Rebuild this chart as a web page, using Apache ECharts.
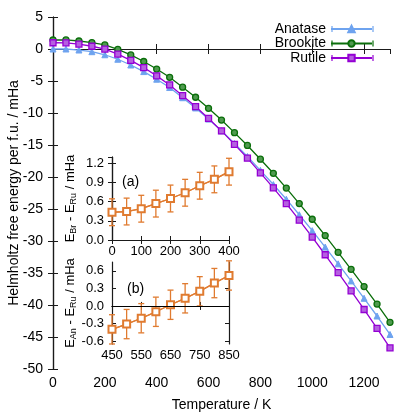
<!DOCTYPE html>
<html>
<head>
<meta charset="utf-8">
<script src="https://cdn.jsdelivr.net/npm/echarts@6/dist/echarts.min.js"></script>
<style>
  html, body { margin: 0; padding: 0; background: #fff; }
  #chart { width: 415px; height: 415px; }
</style>
</head>
<body>
<div id="chart"></div>
<script>
// main plot: free energy per formula unit (mHa) vs temperature (K)
const temps = [0, 50, 100, 150, 200, 250, 300, 350, 400, 450, 500, 550, 600, 650,
  700, 750, 800, 850, 900, 950, 1000, 1050, 1100, 1150, 1200, 1250, 1300]
const anatase = [0.00, 0.00, -0.16, -0.42, -0.90, -1.60, -2.50, -3.53, -4.72, -6.02,
  -7.61, -9.21, -10.95, -12.78, -14.77, -16.80, -18.96, -21.18, -23.47, -25.90,
  -28.38, -30.95, -33.57, -36.24, -38.95, -41.72, -44.60]
const brookite = [1.41, 1.42, 1.25, 1.00, 0.63, -0.06, -0.93, -1.95, -3.13, -4.42,
  -5.97, -7.54, -9.27, -11.10, -13.07, -15.07, -17.22, -19.42, -21.73, -24.15,
  -26.60, -29.16, -31.77, -34.42, -37.12, -39.86, -42.70]
const rutile = [0.98, 0.97, 0.76, 0.43, -0.02, -0.80, -1.78, -2.90, -4.20, -5.62,
  -7.30, -9.00, -10.85, -12.80, -14.90, -17.05, -19.35, -21.70, -24.15, -26.75,
  -29.40, -32.15, -34.95, -37.80, -40.70, -43.65, -46.70]

// inset (a): E_Br - E_Ru
const tempsA = [0, 50, 100, 150, 200, 250, 300, 350, 400]
const diffBrRu = [0.435, 0.446, 0.49, 0.57, 0.65, 0.74, 0.85, 0.95, 1.07]
const errBrRu = [0.21, 0.21, 0.21, 0.21, 0.21, 0.21, 0.21, 0.21, 0.21]

// inset (b): E_An - E_Ru
const tempsB = [450, 500, 550, 600, 650, 700, 750, 800, 850]
const diffAnRu = [-0.40, -0.31, -0.21, -0.10, 0.02, 0.13, 0.25, 0.39, 0.52]
const errAnRu = [0.25, 0.25, 0.25, 0.25, 0.25, 0.25, 0.25, 0.25, 0.25]

const tickLabelsB = [-0.6, -0.3, 0, 0.3, 0.6]

const FONT = 'Liberation Sans'
const ORANGE = '#e07b30'
const FRAME = '#1a1a1a'
const BLUE = '#6ea3ef'
const GREEN = '#0a6e0a'
const PURPLE = '#9400d3'

const pairs = (xs, ys) => xs.map((x, i) => [x, ys[i]])
// each row: x, y, err, next x, next y (for the connecting segment)
const rows = (xs, ys, es) => xs.map((x, i) => [x, ys[i], es[i],
  i + 1 < xs.length ? xs[i + 1] : x, i + 1 < xs.length ? ys[i + 1] : ys[i]])

function axisLine() {
  return { show: true, lineStyle: { color: FRAME, width: 1.2 } }
}
function axisTick(len) {
  return { show: true, inside: true, length: len, lineStyle: { color: FRAME, width: 1 } }
}

function errorBars(params, api) {
  const x = api.value(0)
  const y = api.value(1)
  const e = api.value(2)
  const p = api.coord([x, y])
  const q = api.coord([api.value(3), api.value(4)])
  const top = api.coord([x, y + e])
  const bot = api.coord([x, y - e])
  const w = 3
  const style = { stroke: ORANGE, lineWidth: 1.3 }
  return {
    type: 'group',
    children: [
      { type: 'line', shape: { x1: p[0], y1: p[1], x2: q[0], y2: q[1] }, style },
      { type: 'line', shape: { x1: top[0], y1: top[1], x2: bot[0], y2: bot[1] }, style },
      { type: 'line', shape: { x1: top[0] - w, y1: top[1], x2: top[0] + w, y2: top[1] }, style },
      { type: 'line', shape: { x1: bot[0] - w, y1: bot[1], x2: bot[0] + w, y2: bot[1] }, style }
    ]
  }
}

// end caps of the legend samples (gnuplot error-line style)
function legendCaps() {
  const caps = [[29, BLUE], [43.5, GREEN], [58, PURPLE]]
  const out = []
  caps.forEach(([y, c]) => {
    [332, 373].forEach(x => {
      out.push({ type: 'line', z: 30, shape: { x1: x, y1: y - 3, x2: x, y2: y + 3 }, style: { stroke: c, lineWidth: 1.2 } })
    })
  })
  return out
}

const chart = echarts.init(document.getElementById('chart'), null, { renderer: 'canvas' })

const insetName = {
  fontSize: 13, fontFamily: FONT,
  rich: { s: { fontSize: 9, padding: [7, 0, 0, 0] } }
}

const option = {
  animation: false,
  textStyle: { fontFamily: FONT, color: '#000' },
  legend: {
    orient: 'vertical',
    align: 'right',
    right: 42,
    top: 22,
    padding: 0,
    itemWidth: 41,
    itemHeight: 8,
    itemGap: 0.5,
    textStyle: { fontFamily: FONT, fontSize: 14, color: '#000', lineHeight: 14 },
    data: ['Anatase', 'Brookite', 'Rutile']
  },
  grid: [
    { left: 53, right: 25, top: 17, bottom: 46, outerBoundsMode: 'none', containLabel: false },
    { left: 112, top: 157, width: 117, height: 83, outerBoundsMode: 'none', containLabel: false },
    { left: 112, top: 262, width: 117, height: 82, outerBoundsMode: 'none', containLabel: false }
  ],
  xAxis: [
    {
      type: 'value', gridIndex: 0, min: 0, max: 1300, interval: 200,
      name: 'Temperature / K', nameLocation: 'middle', nameGap: 29, nameMoveOverlap: false,
      nameTextStyle: { fontSize: 14, fontFamily: FONT },
      axisLine: axisLine(), axisTick: axisTick(5),
      axisLabel: { fontSize: 14, color: '#000', margin: 7, showMaxLabel: false, formatter: v => String(v) },
      splitLine: { show: false }
    },
    {
      type: 'value', gridIndex: 0, position: 'top', min: 0, max: 1300, interval: 200,
      axisLine: axisLine(), axisTick: axisTick(5), axisLabel: { show: false }, splitLine: { show: false }
    },
    {
      type: 'value', gridIndex: 1, min: 0, max: 400, interval: 100,
      axisLine: axisLine(), axisTick: axisTick(4),
      axisLabel: { fontSize: 13, color: '#000', margin: 5, formatter: v => String(v) },
      splitLine: { show: false }
    },
    {
      type: 'value', gridIndex: 1, position: 'top', min: 0, max: 400, interval: 100,
      axisLine: axisLine(), axisTick: axisTick(4), axisLabel: { show: false }, splitLine: { show: false }
    },
    {
      type: 'value', gridIndex: 2, min: 450, max: 850, interval: 100,
      axisLine: axisLine(), axisTick: axisTick(4),
      axisLabel: { fontSize: 13, color: '#000', margin: 5, formatter: v => String(v) },
      splitLine: { show: false }
    },
    {
      type: 'value', gridIndex: 2, position: 'top', min: 450, max: 850, interval: 100,
      axisLine: axisLine(), axisTick: axisTick(4), axisLabel: { show: false }, splitLine: { show: false }
    }
  ],
  yAxis: [
    {
      type: 'value', gridIndex: 0, min: -50, max: 5, interval: 5,
      name: 'Helmholtz free energy per f.u. / mHa', nameLocation: 'middle', nameGap: 32, nameMoveOverlap: false,
      nameTextStyle: { fontSize: 14, fontFamily: FONT },
      axisLine: axisLine(), axisTick: axisTick(5),
      axisLabel: { fontSize: 14, color: '#000', margin: 10 },
      splitLine: { show: false }
    },
    {
      type: 'value', gridIndex: 0, position: 'right', min: -50, max: 5, interval: 5,
      axisLine: axisLine(), axisTick: axisTick(5), axisLabel: { show: false }, splitLine: { show: false }
    },
    {
      type: 'value', gridIndex: 1, min: 0, max: 1.3, interval: 0.3,
      name: 'E{s|Br} - E{s|Ru} / mHa', nameLocation: 'middle', nameGap: 34, nameMoveOverlap: false,
      nameTextStyle: insetName,
      axisLine: axisLine(), axisTick: axisTick(4),
      axisLabel: { fontSize: 13, color: '#000', margin: 8, showMaxLabel: false, formatter: v => v.toFixed(1) },
      splitLine: { show: false }
    },
    {
      type: 'value', gridIndex: 1, position: 'right', min: 0, max: 1.3, interval: 0.3,
      axisLine: axisLine(), axisTick: axisTick(4), axisLabel: { show: false }, splitLine: { show: false }
    },
    {
      type: 'value', gridIndex: 2, min: -0.65, max: 0.75,
      name: 'E{s|An} - E{s|Ru} / mHa', nameLocation: 'middle', nameGap: 34, nameMoveOverlap: false,
      nameTextStyle: insetName,
      axisLine: axisLine(),
      axisTick: Object.assign(axisTick(4), { customValues: tickLabelsB }),
      axisLabel: { fontSize: 13, color: '#000', margin: 8, customValues: tickLabelsB, formatter: v => v.toFixed(1) },
      splitLine: { show: false }
    },
    {
      type: 'value', gridIndex: 2, position: 'right', min: -0.65, max: 0.75,
      axisLine: axisLine(),
      axisTick: Object.assign(axisTick(4), { customValues: tickLabelsB }),
      axisLabel: { show: false }, splitLine: { show: false }
    }
  ],
  graphic: [
    { type: 'text', left: 122, top: 175, z: 20, style: { text: '(a)', font: '14px ' + FONT, fill: '#000' } },
    { type: 'text', left: 127, top: 282, z: 20, style: { text: '(b)', font: '14px ' + FONT, fill: '#000' } }
  ].concat(legendCaps()),
  series: [
    {
      name: 'Anatase', type: 'line', xAxisIndex: 0, yAxisIndex: 0,
      data: pairs(temps, anatase),
      symbol: 'triangle', symbolSize: 6,
      lineStyle: { color: BLUE, width: 1.3 },
      itemStyle: { color: BLUE, borderColor: BLUE, borderWidth: 1 }
    },
    {
      name: 'Brookite', type: 'line', xAxisIndex: 0, yAxisIndex: 0,
      data: pairs(temps, brookite),
      symbol: 'circle', symbolSize: 6,
      lineStyle: { color: GREEN, width: 1.3 },
      itemStyle: { color: '#4f9a4f', borderColor: GREEN, borderWidth: 1.3 }
    },
    {
      name: 'Rutile', type: 'line', xAxisIndex: 0, yAxisIndex: 0,
      data: pairs(temps, rutile),
      symbol: 'rect', symbolSize: 6,
      lineStyle: { color: PURPLE, width: 1.3 },
      itemStyle: { color: '#b560e0', borderColor: PURPLE, borderWidth: 1.3 }
    },
    {
      type: 'custom', xAxisIndex: 2, yAxisIndex: 2, z: 3,
      renderItem: errorBars,
      data: rows(tempsA, diffBrRu, errBrRu),
      encode: { x: 0, y: [1] }
    },
    {
      type: 'line', xAxisIndex: 2, yAxisIndex: 2, z: 4,
      data: pairs(tempsA, diffBrRu),
      symbol: 'emptyRect', symbolSize: 7,
      lineStyle: { color: ORANGE, width: 1.3 },
      itemStyle: { color: ORANGE, borderWidth: 1.3 }
    },
    {
      type: 'custom', xAxisIndex: 4, yAxisIndex: 4, z: 3,
      renderItem: errorBars,
      data: rows(tempsB, diffAnRu, errAnRu),
      encode: { x: 0, y: [1] }
    },
    {
      type: 'line', xAxisIndex: 4, yAxisIndex: 4, z: 4,
      data: pairs(tempsB, diffAnRu),
      symbol: 'emptyRect', symbolSize: 7,
      lineStyle: { color: ORANGE, width: 1.3 },
      itemStyle: { color: ORANGE, borderWidth: 1.3 },
      markLine: {
        silent: true, symbol: 'none', label: { show: false },
        lineStyle: { color: '#000', width: 1, type: 'solid' },
        data: [{ yAxis: 0 }]
      }
    }
  ]
}

chart.setOption(option)
</script>
</body>
</html>
